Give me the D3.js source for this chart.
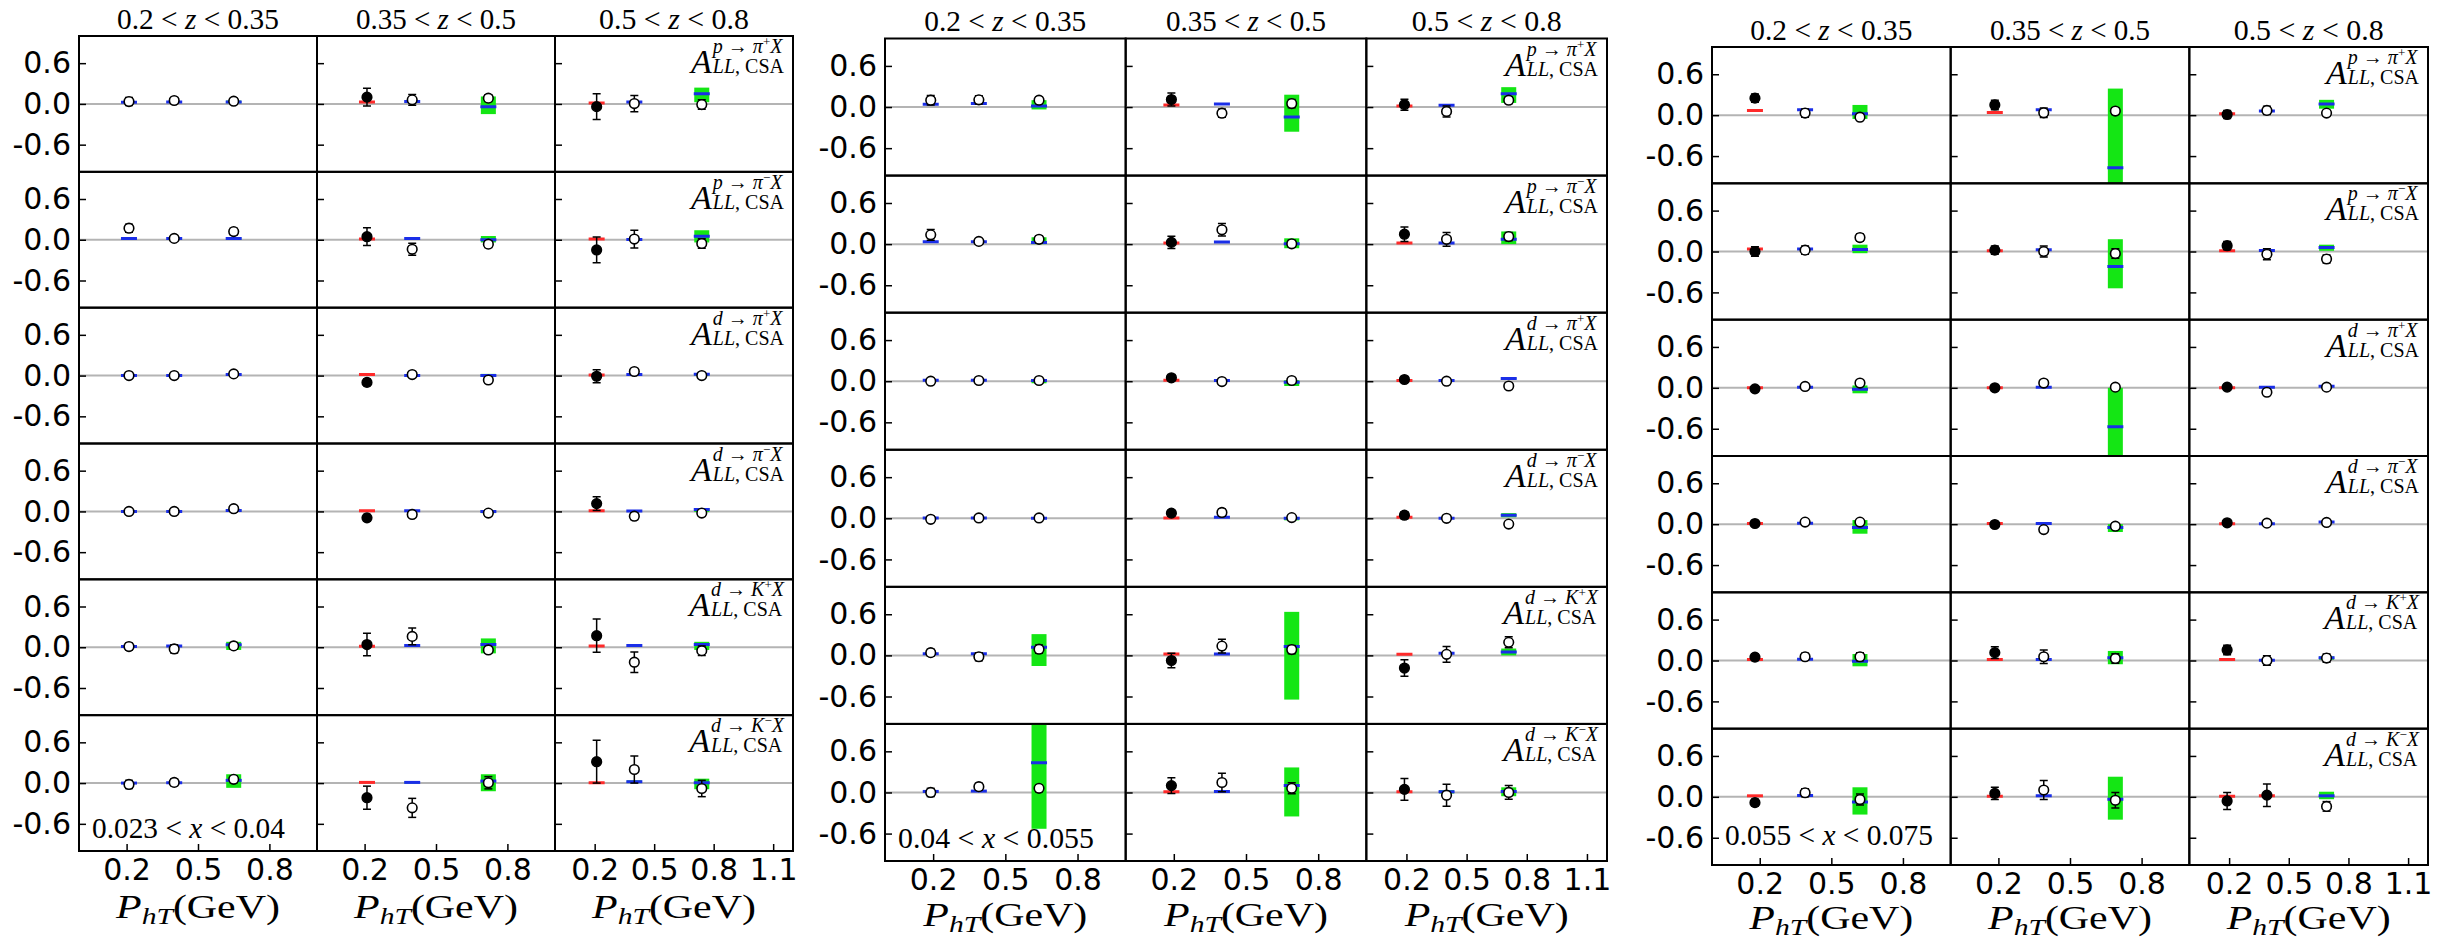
<!DOCTYPE html>
<html>
<head>
<meta charset="utf-8">
<script src="https://cdn.jsdelivr.net/npm/d3@7"></script>
<style>
body { margin: 0; background: #fff; }
svg { display: block; }
</style>
</head>
<body>
<svg id="chart" width="2454" height="939"></svg>
<script>
// ---- data ----
const zBins = [["0.2", "0.35"], ["0.35", "0.5"], ["0.5", "0.8"]]
const xBins = [["0.023", "0.04"], ["0.04", "0.055"], ["0.055", "0.075"]]
// target -> hadron, charge
const reactions = [["p", "π", "+"], ["p", "π", "−"], ["d", "π", "+"], ["d", "π", "−"], ["d", "K", "+"], ["d", "K", "−"]]
const yTicks = [-0.6, 0.0, 0.6]
const xTicks = [[0.2, 0.5, 0.8], [0.2, 0.5, 0.8], [0.2, 0.5, 0.8, 1.1]]
const xDomains = [[0, 1], [0, 1], [0, 1.2]]

// P_hT of the three points in each z bin
const pht_x1 = [[0.21, 0.40, 0.65], [0.21, 0.40, 0.72], [0.21, 0.40, 0.74]]
const pht_x2 = [[0.19, 0.39, 0.64], [0.19, 0.40, 0.69], [0.19, 0.40, 0.71]]
const pht_x3 = [[0.18, 0.39, 0.62], [0.185, 0.39, 0.69], [0.19, 0.39, 0.69]]

// one row per reaction, 9 entries = 3 z bins x 3 P_hT points
const asym_x1 = [
  [0.035, 0.05, 0.04, 0.10, 0.06, 0.085, -0.04, 0.005, -0.01],
  [0.17, 0.02, 0.12, 0.045, -0.14, -0.065, -0.15, 0.01, -0.055],
  [0.0, 0.0, 0.025, -0.10, 0.015, -0.065, -0.01, 0.06, 0.0],
  [0.0, 0.0, 0.04, -0.095, -0.045, -0.025, 0.115, -0.07, -0.025],
  [0.01, -0.025, 0.02, 0.04, 0.16, -0.04, 0.17, -0.22, -0.05],
  [-0.02, 0.01, 0.055, -0.215, -0.365, 0.005, 0.315, 0.2, -0.08]
]
const err_x1 = [
  [0.06, 0.04, 0.04, 0.13, 0.08, 0.05, 0.19, 0.12, 0.07],
  [0.06, 0.04, 0.05, 0.13, 0.09, 0.05, 0.19, 0.13, 0.07],
  [0.03, 0.03, 0.03, 0.05, 0.04, 0.04, 0.095, 0.04, 0.04],
  [0.03, 0.03, 0.04, 0.05, 0.04, 0.04, 0.10, 0.05, 0.04],
  [0.05, 0.06, 0.05, 0.165, 0.125, 0.05, 0.245, 0.15, 0.07],
  [0.06, 0.05, 0.05, 0.17, 0.14, 0.09, 0.315, 0.2, 0.12]
]
const theo_x1 = [
  [0.025, 0.03, 0.03, 0.03, 0.035, -0.04, 0.015, 0.03, 0.15],
  [0.02, 0.02, 0.02, 0.01, 0.02, 0.0, 0.01, 0.005, 0.05],
  [0.0, 0.0, 0.015, 0.015, 0.0, 0.0, 0.01, 0.015, 0.02],
  [0.0, 0.0, 0.015, 0.01, 0.01, 0.0, 0.01, 0.005, 0.03],
  [0.01, 0.02, 0.035, 0.015, 0.025, 0.04, 0.02, 0.025, 0.04],
  [0.0, 0.005, 0.04, 0.01, 0.01, 0.03, 0.005, 0.02, 0.005]
]
const band_x1 = [
  [null, null, [0.01, 0.05], null, null, [-0.15, 0.11], null, null, [0.025, 0.24]],
  [null, null, [0.0, 0.035], null, null, [-0.04, 0.055], null, null, [-0.04, 0.14]],
  [null, null, null, null, null, [-0.015, 0.025], null, null, [0.0, 0.035]],
  [null, null, [0.0, 0.03], null, null, [-0.025, 0.02], null, null, [-0.01, 0.05]],
  [null, null, [-0.04, 0.08], null, null, [-0.09, 0.13], null, null, [-0.04, 0.08]],
  [null, null, [-0.07, 0.13], null, [-0.005, 0.025], [-0.12, 0.13], null, [0.0, 0.04], [-0.09, 0.065]]
]
const mark_x1 = ["ooofoofoo", "ooofoofoo", "ooofoofoo", "ooofoofoo", "ooofoofoo", "ooofoofoo"]

const asym_x2 = [
  [0.10, 0.105, 0.10, 0.11, -0.09, 0.05, 0.035, -0.065, 0.10],
  [0.135, 0.04, 0.07, 0.025, 0.21, 0.005, 0.145, 0.07, 0.11],
  [0.0, 0.01, 0.01, 0.05, -0.005, 0.01, 0.025, 0.0, -0.07],
  [-0.015, 0.005, 0.005, 0.075, 0.085, 0.01, 0.045, 0.0, -0.085],
  [0.04, -0.02, 0.09, -0.075, 0.135, 0.085, -0.185, 0.015, 0.19],
  [0.0, 0.085, 0.06, 0.10, 0.145, 0.06, 0.045, -0.04, 0.0]
]
const err_x2 = [
  [0.07, 0.06, 0.05, 0.095, 0.06, 0.06, 0.08, 0.08, 0.05],
  [0.08, 0.04, 0.05, 0.09, 0.09, 0.05, 0.105, 0.10, 0.06],
  [0.03, 0.03, 0.03, 0.04, 0.03, 0.03, 0.04, 0.03, 0.04],
  [0.04, 0.03, 0.03, 0.04, 0.05, 0.04, 0.05, 0.03, 0.04],
  [0.05, 0.06, 0.06, 0.105, 0.10, 0.06, 0.12, 0.115, 0.08],
  [0.06, 0.05, 0.05, 0.115, 0.135, 0.08, 0.16, 0.16, 0.10]
]
const theo_x2 = [
  [0.04, 0.05, 0.015, 0.03, 0.045, -0.145, 0.015, 0.025, 0.195],
  [0.035, 0.035, 0.025, 0.015, 0.03, 0.005, 0.015, 0.015, 0.07],
  [0.015, 0.015, 0.01, 0.015, 0.01, -0.015, 0.01, 0.01, 0.04],
  [0.005, 0.005, 0.0, 0.005, 0.015, 0.0, 0.015, 0.0, 0.045],
  [0.025, 0.025, 0.12, 0.02, 0.02, 0.13, 0.015, 0.03, 0.05],
  [0.015, 0.02, 0.434, 0.01, 0.015, 0.10, 0.01, 0.01, 0.015]
]
const band_x2 = [
  [null, null, [-0.035, 0.10], null, null, [-0.36, 0.18], null, [0.015, 0.035], [0.06, 0.29]],
  [null, null, [0.0, 0.10], null, null, [-0.06, 0.085], null, null, [0.0, 0.185]],
  [null, null, [-0.03, 0.025], null, null, [-0.07, 0.015], null, null, [0.03, 0.05]],
  [null, null, [-0.01, 0.01], null, null, [-0.03, 0.01], null, null, [0.015, 0.075]],
  [null, null, [-0.155, 0.31], null, null, [-0.645, 0.635], null, null, [0.0, 0.1]],
  [null, null, [-0.53, 1.4], null, null, [-0.35, 0.365], null, [-0.015, 0.035], [-0.055, 0.075]]
]
const mark_x2 = ["ooofoofoo", "ooofoofoo", "ooofoofoo", "ooofoofoo", "ooofoofoo", "ooofoofoo"]

const asym_x3 = [
  [0.25, 0.03, -0.03, 0.15, 0.035, 0.06, 0.01, 0.07, 0.03],
  [0.0, 0.02, 0.205, 0.02, 0.0, -0.03, 0.085, -0.04, -0.11],
  [-0.015, 0.02, 0.07, 0.0, 0.07, 0.01, 0.01, -0.065, 0.01],
  [0.01, 0.03, 0.03, -0.005, -0.08, -0.03, 0.02, 0.015, 0.025],
  [0.05, 0.055, 0.055, 0.115, 0.055, 0.03, 0.155, 0.0, 0.035],
  [-0.085, 0.06, -0.04, 0.05, 0.10, -0.05, -0.06, 0.025, -0.14]
]
const err_x3 = [
  [0.06, 0.06, 0.04, 0.07, 0.07, 0.05, 0.06, 0.06, 0.04],
  [0.07, 0.06, 0.05, 0.06, 0.08, 0.07, 0.06, 0.08, 0.06],
  [0.04, 0.03, 0.04, 0.04, 0.04, 0.03, 0.04, 0.04, 0.04],
  [0.04, 0.03, 0.04, 0.04, 0.04, 0.04, 0.04, 0.04, 0.04],
  [0.05, 0.05, 0.06, 0.085, 0.10, 0.07, 0.07, 0.07, 0.06],
  [0.05, 0.06, 0.08, 0.09, 0.14, 0.115, 0.125, 0.165, 0.07]
]
const theo_x3 = [
  [0.07, 0.08, 0.02, 0.04, 0.08, -0.77, 0.02, 0.06, 0.165],
  [0.035, 0.035, 0.03, 0.01, 0.025, -0.22, 0.01, 0.015, 0.06],
  [0.0, 0.01, -0.02, 0.0, 0.01, -0.57, 0.0, 0.01, 0.025],
  [0.01, 0.015, -0.05, 0.01, 0.01, -0.05, 0.005, 0.005, 0.03],
  [0.015, 0.02, -0.01, 0.015, 0.015, 0.04, 0.015, 0.005, 0.04],
  [0.015, 0.02, -0.075, 0.01, 0.015, -0.035, 0.01, 0.015, 0.015]
]
const band_x3 = [
  [null, null, [-0.055, 0.15], null, null, [-1.9, 0.39], null, null, [0.095, 0.225]],
  [null, null, [-0.025, 0.1], null, null, [-0.54, 0.18], null, null, [0.01, 0.1]],
  [null, null, [-0.08, 0.035], null, null, [-1.2, 0.0], null, null, null],
  [null, null, [-0.14, 0.06], null, null, [-0.115, 0.0], null, null, null],
  [null, null, [-0.085, 0.095], null, null, [-0.055, 0.14], null, null, [0.01, 0.06]],
  [null, null, [-0.26, 0.14], null, null, [-0.335, 0.295], null, null, [-0.035, 0.075]]
]
const mark_x3 = ["foofoofoo", "foofoofoo", "foofoofoo", "foofoofoo", "foofoofoo", "foofooffo"]

// ---- layout ----
const layout = [
  { left: 79, right: 793, top: 36, bottom: 851, binDy: -13, labDy: 67 },
  { left: 885, right: 1607, top: 38.5, bottom: 861, binDy: -13, labDy: 65 },
  { left: 1712, right: 2428, top: 47, bottom: 865, binDy: -20, labDy: 64 }
]
const bins = [
  { asym: asym_x1, err: err_x1, theo: theo_x1, band: band_x1, mark: mark_x1, pht: pht_x1 },
  { asym: asym_x2, err: err_x2, theo: theo_x2, band: band_x2, mark: mark_x2, pht: pht_x2 },
  { asym: asym_x3, err: err_x3, theo: theo_x3, band: band_x3, mark: mark_x3, pht: pht_x3 }
]

const SERIF = '"Liberation Serif", "Times New Roman", serif'
const SANS = '"DejaVu Sans", sans-serif'
const RED = "#ff2a2a", BLUE = "#1a2ee8", GREEN = "#14e614"

const svg = d3.select("#chart")
const defs = svg.append("defs")

// the serif captions of the original are set wider than Liberation Serif
function widen(sel, target, ax) {
  const w = sel.node().getComputedTextLength()
  const s = target / w
  sel.attr("transform", `translate(${ax},0) scale(${s},1) translate(${-ax},0)`)
}

bins.forEach((b, p) => {
  const L = layout[p]
  const colW = (L.right - L.left) / 3
  const rowH = (L.bottom - L.top) / 6
  const g = svg.append("g")

  for (let c = 0; c < 3; c++) {
    const x = d3.scaleLinear().domain(xDomains[c]).range([L.left + c * colW, L.left + (c + 1) * colW])
    const cx = L.left + (c + 0.5) * colW

    // z bin header
    const hd = g.append("text").attr("x", cx).attr("y", L.top - 7)
      .attr("text-anchor", "middle").attr("font-family", SERIF).attr("font-size", 29)
    hd.append("tspan").text(zBins[c][0] + " < ")
    hd.append("tspan").attr("font-style", "italic").text("z")
    hd.append("tspan").text(" < " + zBins[c][1])
    widen(hd, [162, 160, 150][c], cx)

    for (let r = 0; r < 6; r++) {
      const y = d3.scaleLinear().domain([-1, 1]).range([L.top + (r + 1) * rowH, L.top + r * rowH])
      const cell = g.append("g")
      const id = `clip-${p}-${r}-${c}`
      defs.append("clipPath").attr("id", id).append("rect")
        .attr("x", x.range()[0]).attr("y", y.range()[1]).attr("width", colW).attr("height", rowH)

      cell.append("line")
        .attr("x1", x.range()[0]).attr("x2", x.range()[1])
        .attr("y1", y(0)).attr("y2", y(0))
        .attr("stroke", "#b4b4b4").attr("stroke-width", 2)

      const pts = d3.range(3).map(i => {
        const k = c * 3 + i
        return {
          px: b.pht[c][i], v: b.asym[r][k], e: b.err[r][k],
          t: b.theo[r][k], band: b.band[r][k], filled: b.mark[r][k] === "f"
        }
      })

      const inner = cell.append("g").attr("clip-path", `url(#${id})`)
      inner.selectAll("rect.band").data(pts.filter(d => d.band)).join("rect")
        .attr("class", "band")
        .attr("x", d => x(d.px) - 7.5).attr("width", 15)
        .attr("y", d => y(d.band[1])).attr("height", d => y(d.band[0]) - y(d.band[1]))
        .attr("fill", GREEN)
      inner.selectAll("line.theo").data(pts).join("line")
        .attr("class", "theo")
        .attr("x1", d => x(d.px) - 8).attr("x2", d => x(d.px) + 8)
        .attr("y1", d => y(d.t)).attr("y2", d => y(d.t))
        .attr("stroke", d => d.filled ? RED : BLUE).attr("stroke-width", 3)

      const eb = inner.selectAll("g.eb").data(pts).join("g").attr("class", "eb")
        .attr("stroke", "#000").attr("stroke-width", 1.5)
      eb.append("line").attr("x1", d => x(d.px)).attr("x2", d => x(d.px))
        .attr("y1", d => y(d.v - d.e)).attr("y2", d => y(d.v + d.e))
      eb.append("line").attr("x1", d => x(d.px) - 4).attr("x2", d => x(d.px) + 4)
        .attr("y1", d => y(d.v + d.e)).attr("y2", d => y(d.v + d.e))
      eb.append("line").attr("x1", d => x(d.px) - 4).attr("x2", d => x(d.px) + 4)
        .attr("y1", d => y(d.v - d.e)).attr("y2", d => y(d.v - d.e))

      inner.selectAll("circle").data(pts).join("circle")
        .attr("cx", d => x(d.px)).attr("cy", d => y(d.v)).attr("r", 4.8)
        .attr("fill", d => d.filled ? "#000" : "#fff")
        .attr("stroke", "#000").attr("stroke-width", 1.6)

      // inward y ticks on every column, labels on the first
      const ya = cell.append("g").attr("transform", `translate(${x.range()[0]},0)`)
        .call(d3.axisLeft(y).tickValues(yTicks).tickSize(-7).tickPadding(8)
          .tickFormat(c === 0 ? (v => v.toFixed(1)) : () => ""))
      ya.select(".domain").remove()
      ya.selectAll("line").attr("stroke-width", 1.5)
      ya.selectAll("text").attr("font-family", SANS).attr("font-size", 30).attr("fill", "#000")

      if (r === 5) {
        const xa = cell.append("g").attr("transform", `translate(0,${y.range()[0]})`)
          .call(d3.axisBottom(x).tickValues(xTicks[c]).tickSize(-7).tickPadding(8)
            .tickFormat(d3.format(".1f")))
        xa.select(".domain").remove()
        xa.selectAll("line").attr("stroke-width", 1.5)
        xa.selectAll("text").attr("font-family", SANS).attr("font-size", 30).attr("fill", "#000")

        const xl = g.append("text").attr("x", cx).attr("y", L.bottom + L.labDy)
          .attr("text-anchor", "middle").attr("font-family", SERIF).attr("font-size", 34)
        xl.append("tspan").attr("font-style", "italic").text("P")
        xl.append("tspan").attr("font-style", "italic").attr("font-size", 24).attr("dy", 6).text("hT")
        xl.append("tspan").attr("dy", -6).text("(GeV)")
        widen(xl, 164, cx)
      }

      cell.append("rect")
        .attr("x", x.range()[0]).attr("y", y.range()[1]).attr("width", colW).attr("height", rowH)
        .attr("fill", "none").attr("stroke", "#000").attr("stroke-width", 2)

      // reaction label in the last column
      if (c === 2) {
        const [tg, h, q] = reactions[r]
        const R = x.range()[1] - 9
        const top = y.range()[1]
        const sup = cell.append("text").attr("y", top + 17).attr("font-family", SERIF).attr("font-size", 20)
        sup.append("tspan").attr("font-style", "italic").text(tg)
        sup.append("tspan").text(" → ")
        sup.append("tspan").attr("font-style", "italic").text(h)
        sup.append("tspan").attr("font-size", 13).attr("dy", -7).text(q)
        sup.append("tspan").attr("font-style", "italic").attr("dy", 7).text("X")
        const sub = cell.append("text").attr("y", top + 37).attr("font-family", SERIF).attr("font-size", 20)
        sub.append("tspan").attr("font-style", "italic").text("LL")
        sub.append("tspan").text(", CSA")
        const w = Math.max(sup.node().getComputedTextLength(), sub.node().getComputedTextLength())
        sup.attr("x", R - w)
        sub.attr("x", R - w)
        cell.append("text").attr("x", R - w - 1).attr("y", top + 37)
          .attr("text-anchor", "end").attr("font-family", SERIF).attr("font-style", "italic")
          .attr("font-size", 34).text("A")
      }
    }
  }

  // x bin label in bottom-left cell
  const bl = g.append("text").attr("x", L.left + 13).attr("y", L.bottom + L.binDy)
    .attr("font-family", SERIF).attr("font-size", 29)
  bl.append("tspan").text(xBins[p][0] + " < ")
  bl.append("tspan").attr("font-style", "italic").text("x")
  bl.append("tspan").text(" < " + xBins[p][1])
  widen(bl, [193, 196, 208][p], L.left + 13)
})
</script>
</body>
</html>
